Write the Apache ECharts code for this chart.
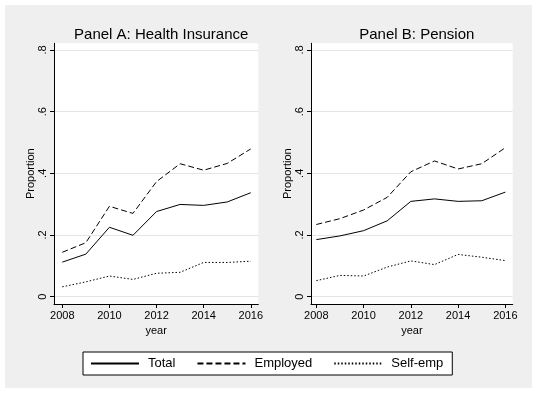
<!DOCTYPE html>
<html>
<head>
<meta charset="utf-8">
<script src="https://cdn.jsdelivr.net/npm/echarts@6/dist/echarts.min.js"></script>
<style>
  html, body { margin: 0; padding: 0; background: #ffffff; }
  #chart { position: absolute; left: 5px; top: 5px; width: 527px; height: 383px; background: #efefef; }
</style>
</head>
<body>
<div id="chart"></div>
<script>
// ---- data ----
const years = [2008, 2009, 2010, 2011, 2012, 2013, 2014, 2015, 2016];
const seriesNames = ['Total', 'Employed', 'Self-emp'];
const panelTitles = ['Panel A: Health Insurance', 'Panel B: Pension'];
const healthTotal    = [0.112, 0.138, 0.225, 0.199, 0.276, 0.299, 0.296, 0.307, 0.337];
const healthEmployed = [0.144, 0.175, 0.293, 0.270, 0.373, 0.431, 0.410, 0.432, 0.479];
const healthSelfEmp  = [0.032, 0.048, 0.067, 0.056, 0.076, 0.079, 0.111, 0.111, 0.115];
const pensionTotal    = [0.185, 0.197, 0.214, 0.246, 0.309, 0.317, 0.309, 0.311, 0.339];
const pensionEmployed = [0.234, 0.253, 0.281, 0.322, 0.405, 0.440, 0.414, 0.431, 0.483];
const pensionSelfEmp  = [0.052, 0.069, 0.067, 0.096, 0.116, 0.104, 0.137, 0.128, 0.117];
const xTicks = [2008, 2010, 2012, 2014, 2016];
const yTicks = [0, 0.2, 0.4, 0.6, 0.8];
const xAxisTitle = 'year';
const yAxisTitle = 'Proportion';

const FONT = '"Liberation Sans", Arial, sans-serif';
const pair = arr => years.map((y, i) => [y, arr[i]]);
const yFmt = v => { const r = Math.round(v * 10) / 10; return r === 0 ? '0' : String(r).replace(/^0/, ''); };

const grids = [
  { left: 49, top: 38.3, width: 204.3, height: 260.7, backgroundColor: '#ffffff', show: true, borderWidth: 0 },
  { left: 306, top: 38.3, width: 201.7, height: 260.7, backgroundColor: '#ffffff', show: true, borderWidth: 0 }
];
const xRanges = [[2007.648, 2016.32], [2007.775, 2016.31]];

function xAxis(i) {
  return {
    type: 'value', gridIndex: i, min: xRanges[i][0], max: xRanges[i][1],
    name: xAxisTitle, nameLocation: 'middle', nameGap: 12,
    nameTextStyle: { fontFamily: FONT, fontSize: 11, color: '#000' },
    axisLine: { show: true, onZero: false, lineStyle: { color: '#000', width: 1 } },
    axisTick: { show: true, length: 4, customValues: xTicks, lineStyle: { color: '#000' } },
    axisLabel: { customValues: xTicks, margin: 6, fontFamily: FONT, fontSize: 11, color: '#000', formatter: v => String(v) },
    splitLine: { show: false }
  };
}
function yAxis(i) {
  return {
    type: 'value', gridIndex: i, min: -0.0237, max: 0.8214,
    name: yAxisTitle, nameLocation: 'middle', nameGap: 18,
    nameTextStyle: { fontFamily: FONT, fontSize: 11, color: '#000' },
    axisLine: { show: true, onZero: false, lineStyle: { color: '#000', width: 1 } },
    axisTick: { show: true, length: 4, customValues: yTicks, lineStyle: { color: '#000' } },
    axisLabel: { customValues: yTicks, rotate: 90, margin: 6, fontFamily: FONT, fontSize: 11, color: '#000', formatter: yFmt },
    splitLine: { show: true, lineStyle: { color: '#e4e4e4', width: 1 } }
  };
}
const styles = [
  { color: '#000', width: 1, type: 'solid' },
  { color: '#000', width: 1, type: [6, 3] },
  { color: '#000', width: 1, type: [1.5, 2] }
];
const panels = [
  [healthTotal, healthEmployed, healthSelfEmp],
  [pensionTotal, pensionEmployed, pensionSelfEmp]
];
const series = [];
panels.forEach((p, gi) => {
  p.forEach((arr, si) => {
    series.push({
      type: 'line', name: seriesNames[si], xAxisIndex: gi, yAxisIndex: gi,
      data: pair(arr), symbol: 'none', showSymbol: false, smooth: false,
      lineStyle: styles[si], itemStyle: { color: '#000' },
      emphasis: { disabled: true }, silent: true
    });
  });
});

const chart = echarts.init(document.getElementById('chart'), null, { renderer: 'canvas' });
chart.setOption({
  animation: false,
  backgroundColor: '#efefef',
  title: [
    { text: panelTitles[0], left: 151.2, top: 17, textAlign: 'center', textStyle: { fontFamily: FONT, fontSize: 15, fontWeight: 'normal', color: '#000' } },
    { text: panelTitles[1], left: 406.8, top: 17, textAlign: 'center', textStyle: { fontFamily: FONT, fontSize: 15, fontWeight: 'normal', color: '#000' } }
  ],
  grid: grids,
  xAxis: [xAxis(0), xAxis(1)],
  yAxis: [yAxis(0), yAxis(1)],
  legend: {
    data: seriesNames, left: 78, top: 347,
    backgroundColor: '#ffffff', borderColor: '#000', borderWidth: 1, borderRadius: 0,
    padding: [5, 9, 5, 7], itemWidth: 48, itemHeight: 12, itemGap: 21,
    selectedMode: false,
    itemStyle: { color: 'rgba(0,0,0,0)', borderWidth: 0, opacity: 0 },
    textStyle: { fontFamily: FONT, fontSize: 13, color: '#000', padding: [0, 0, 0, 4] }
  },
  series: series
});
</script>
</body>
</html>
